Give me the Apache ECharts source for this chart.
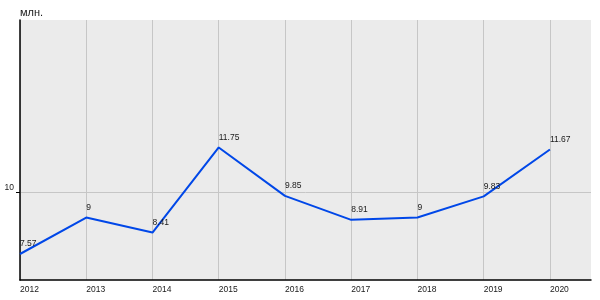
<!DOCTYPE html>
<html><head><meta charset="utf-8">
<script src="https://cdn.jsdelivr.net/npm/echarts@6/dist/echarts.min.js"></script>
<style>html,body{margin:0;padding:0;background:#fff}#c{width:600px;height:300px}</style>
</head><body><div id="c"></div>
<script>
var years = [2012, 2013, 2014, 2015, 2016, 2017, 2018, 2019, 2020];
var values = [7.57, 9, 8.41, 11.75, 9.85, 8.91, 9, 9.83, 11.67];
var yTicks = [10];
var yUnit = 'млн.';

var chart = echarts.init(document.getElementById('c'), null, {renderer: 'canvas'});
var font = 'Liberation Sans, Arial, sans-serif';
var txt = '#1a1a1a';
chart.setOption({
  animation: false,
  title: {text: yUnit, left: 20, top: 7, padding: 0,
    textStyle: {fontSize: 11, fontWeight: 'normal', fontFamily: font, color: txt}},
  grid: {left: 20, right: 9, top: 20, bottom: 20, backgroundColor: '#ebebeb', show: true, borderWidth: 0},
  xAxis: {
    type: 'value', min: 2012, max: 2020.62, interval: 1,
    axisLine: {show: true, lineStyle: {color: '#000', width: 1.5}},
    axisTick: {show: false, customValues: years},
    axisLabel: {customValues: years, align: 'left', margin: 5, fontSize: 8.5, fontFamily: font, color: txt,
      formatter: function (v) { return String(v); }},
    splitLine: {show: true, lineStyle: {color: '#c6c6c6', width: 1}}
  },
  yAxis: {
    type: 'value', min: 6.55, max: 16.75,
    axisLine: {show: true, onZero: false, lineStyle: {color: '#000', width: 1.5}},
    axisTick: {show: true, customValues: yTicks, length: 4, lineStyle: {color: '#000'}},
    axisLabel: {customValues: yTicks, margin: 6, verticalAlign: 'bottom', fontSize: 8.5, fontFamily: font, color: txt},
    splitLine: {show: true, lineStyle: {color: '#c6c6c6', width: 1}}
  },
  series: [{
    type: 'line',
    data: years.map(function (y, i) { return [y, values[i]]; }),
    symbol: 'circle', symbolSize: 0, showSymbol: true,
    itemStyle: {color: '#0047e8'},
    lineStyle: {color: '#0047e8', width: 2},
    label: {show: true, position: 'top', distance: 10, align: 'left', verticalAlign: 'middle',
      fontSize: 8.5, fontFamily: font, color: txt,
      formatter: function (p) { return String(p.value[1]); }},
    emphasis: {disabled: true}
  }]
});
</script></body></html>
